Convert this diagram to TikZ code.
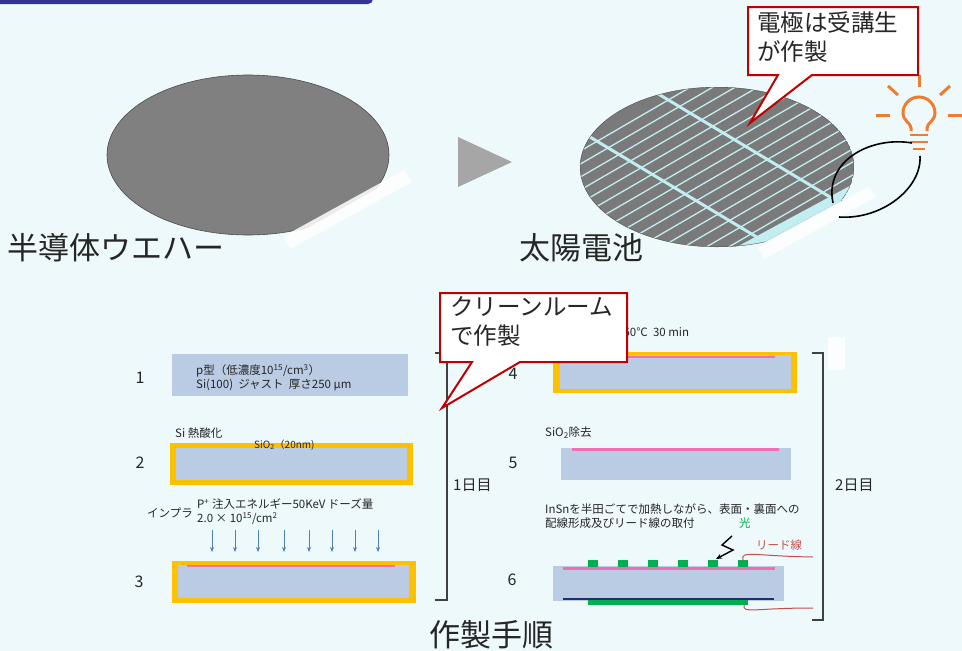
\documentclass[tikz,border=0pt]{standalone}
\usepackage{fontspec}
\setmainfont{Noto Sans CJK JP}
\usetikzlibrary{arrows.meta}

\definecolor{bg}{HTML}{EEF9FC}
\definecolor{barblue}{HTML}{333399}
\definecolor{wafergray}{HTML}{808080}
\definecolor{finger}{HTML}{C2EEF2}
\definecolor{subblue}{HTML}{BACCE4}
\definecolor{oxide}{HTML}{FFC000}
\definecolor{ndope}{HTML}{F06EB4}
\definecolor{calloutred}{HTML}{C00000}
\definecolor{lamp}{HTML}{ED7D31}
\definecolor{ionblue}{HTML}{4F7FBF}
\definecolor{pad}{HTML}{00B050}
\definecolor{lead}{HTML}{C0504D}
\definecolor{backside}{HTML}{1F2F6F}
\definecolor{txt}{HTML}{262626}

\newcommand\sz[2]{\fontsize{#1}{#2}\selectfont}

\begin{document}
\begin{tikzpicture}[x=1pt, y=-1pt,
    big/.style={text=txt, font=\sz{31}{36}, inner sep=0pt},
    num/.style={text=txt, font=\sz{16}{18}, inner sep=0pt},
    small/.style={text=txt, font=\sz{11.5}{14}, inner sep=0pt, align=left, anchor=west},
    balloon/.style={fill=white, draw=calloutred, line width=2pt, line join=miter},
    balloontext/.style={text=txt, font=\sz{23.5}{29.5}, inner sep=0pt, align=left, anchor=north west},
    waferline/.style={draw=black!70, line width=0.6pt},
    ion/.style={draw=ionblue, line width=0.9pt, -{Stealth[length=5pt,width=4pt]}},
    pink/.style={draw=ndope, line width=2.4pt},
    wire/.style={draw=black, line width=1.6pt},
    leadw/.style={draw=lead, line width=1pt},
    ray/.style={draw=lamp, line width=3pt}]

    \useasboundingbox (0,0) rectangle (962,651);
    \fill[bg] (0,0) rectangle (962,651);
    \fill[barblue, rounded corners=5pt] (-10,-10) rectangle (373,4);

    % bare wafer
    \begin{scope}
        \clip (100,346) -- (420,164) -- (420,60) -- (100,60) -- cycle;
        \fill[wafergray] (248,155) ellipse [x radius=141, y radius=80];
        \draw[waferline] (248,155) ellipse [x radius=141, y radius=80];
    \end{scope}
    \fill[white, opacity=0.85] (284,236) -- (404,170) -- (412,182) -- (290,249) -- cycle;

    \fill[black!35] (458,137) -- (512,162) -- (458,187) -- cycle;

    % finished cell
    \begin{scope}
        \clip (570,347) -- (870,185) -- (870,80) -- (570,80) -- cycle;
        \clip (717,167) ellipse [x radius=137, y radius=80];
        \fill[wafergray!95!black] (717,167) ellipse [x radius=137, y radius=80];
        \fill[finger] (570,347) -- (870,185) -- (870,175) -- (570,337) -- cycle;
        \foreach \c in {72,85,...,280}
            \draw[finger, line width=1.3pt] (570,\c+85) -- (870,\c-89);
        \draw[finger, line width=3pt] (570,41) -- (870,221);
        \draw[finger, line width=3pt] (570,125) -- (870,305);
        \draw[waferline] (717,167) ellipse [x radius=137, y radius=80];
    \end{scope}
    \fill[white, opacity=0.85] (758,248) -- (868,187) -- (876,197) -- (764,259) -- cycle;

    % lamp
    \draw[lamp, line width=3pt] (911,131) -- (911,128) .. controls (911,123) and (903,121) .. (903,113)
        arc[start angle=180, end angle=360, radius=16] .. controls (935,121) and (927,123) .. (927,128) -- (927,131);
    \draw[lamp, line width=2.5pt] (910,135) -- (928,135) (910,142) -- (928,142) (913,149) -- (925,149);
    \draw[ray] (919,75) -- (919,87);
    \draw[ray] (876,115) -- (890,115);
    \draw[ray] (948,115) -- (962,115);
    \draw[ray] (888,86) -- (898,95);
    \draw[ray] (950,86) -- (940,95);
    \coordinate (lampL) at (912,143);
    \coordinate (lampR) at (920,156);
    \coordinate (tabA) at (833,203);
    \coordinate (tabB) at (839,217);
    \draw[wire] (tabA) .. controls (824,160) and (872,136) .. (lampL);
    \draw[wire] (tabB) .. controls (882,220) and (922,188) .. (lampR);

    \draw[balloon] (748,7) -- (918,7) -- (918,75) -- (812,75) -- (750,123) -- (778,75) -- (748,75) -- cycle;
    \node[balloontext] (electrode) at (757,11) {電極は受講生\\が作製};

    \node[big, anchor=west] (wafer) at (7,248) {半導体ウエハー};
    \node[big, anchor=west] (cell) at (519,248) {太陽電池};
    \node[big, anchor=west] (title) at (429,635) {作製手順};

    % step 1
    \node[num] (n1) at (140,378) {1};
    \fill[subblue] (172,354) rectangle (408,396);
    \node[small] (s1) at (196,378) {p型（低濃度10\textsuperscript{15}/cm\textsuperscript{3}）\\Si(100)\ \ ジャスト\ \ 厚さ250 μm};

    % step 2
    \node[num] (n2) at (140,463) {2};
    \node[small] (s2) at (175,433) {Si 熱酸化};
    \fill[oxide] (170,443) rectangle (413,485);
    \fill[subblue] (176,448) rectangle (407,480);
    \node[small, font=\sz{10}{12}] (ox) at (254,445) {SiO\textsubscript{2}（20nm)};

    % step 3
    \node[num] (n3) at (139,582) {3};
    \node[small] (imp) at (147,513) {インプラ};
    \node[small] (s3) at (197,512) {P\textsuperscript{+} 注入エネルギー50KeV ドーズ量\\2.0 × 10\textsuperscript{15}/cm\textsuperscript{2}};
    \foreach \x in {212,235,258,284,309,332,355,378}
        \draw[ion] (\x,530) -- (\x,552);
    \fill[oxide] (172,561) rectangle (416,603);
    \fill[subblue] (178,565) rectangle (409,598);
    \draw[pink] (187,566) -- (395,566);

    % brackets
    \draw[black!75, line width=1.2pt] (435,353) -- (447,353) -- (447,600) -- (435,600);
    \node[small, font=\sz{15}{17}] (day1) at (453,485) {1日目};
    \fill[white, opacity=0.8] (828,337) rectangle (845,370);
    \draw[black!75, line width=1.2pt] (812,353) -- (823,353) -- (823,620) -- (812,620);
    \node[small, font=\sz{15}{17}] (day2) at (835,485) {2日目};

    % step 4
    \node[num] (n4) at (513,374) {4};
    \node[small] (s4) at (617,332) {950℃\ \ 30 min};
    \fill[oxide] (553,352) rectangle (797,393);
    \fill[subblue] (560,355) rectangle (791,389);
    \draw[pink] (565,357) -- (775,357);

    \draw[balloon] (440,293) -- (627,293) -- (627,362) -- (520,362) -- (442,408) -- (472,362) -- (440,362) -- cycle;
    \node[balloontext] (clean) at (450,296) {クリーンルーム\\で作製};

    % step 5
    \node[num] (n5) at (513,463) {5};
    \node[small] (s5) at (545,433) {SiO\textsubscript{2}除去};
    \fill[subblue] (561,448) rectangle (791,480);
    \draw[pink] (572,449.5) -- (779,449.5);

    % step 6
    \node[num] (n6) at (512,580) {6};
    \node[small] (s6) at (545,516) {InSnを半田ごてで加熱しながら、表面・裏面への\\配線形成及びリード線の取付};
    \node[small, text=pad] (light) at (739,523) {光};
    \node[small, text=lead] (leadname) at (756,545) {リード線};
    \fill[subblue] (553,566) rectangle (784,601);
    \draw[pink] (563,568.5) -- (775,568.5);
    \foreach \x in {593,623,653,683,713,743}
        \fill[pad] (\x-5,560) rectangle (\x+5,567);
    \draw[backside, line width=1.8pt] (563,599) -- (774,599);
    \fill[pad] (588,600) rectangle (748,605);
    \draw[black, line width=1.4pt, -{Stealth[length=6pt,width=5pt]}] (732,536) -- (722,545) -- (733,550) -- (716,559);
    \draw[leadw] (743,560) .. controls (741,550) and (752,556) .. (813,557);
    \draw[leadw] (744,605) .. controls (743,614) and (752,608) .. (813,608);
\end{tikzpicture}
\end{document}
